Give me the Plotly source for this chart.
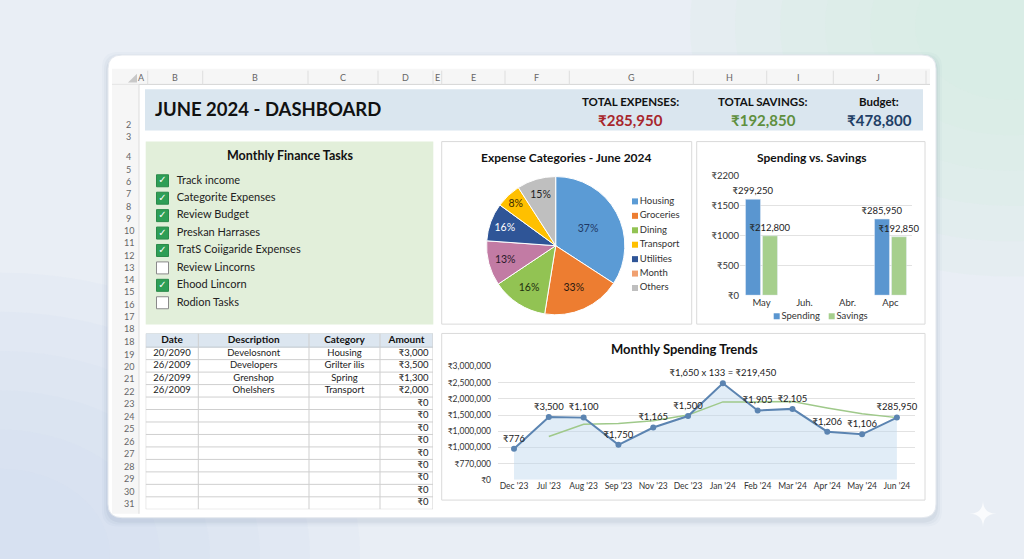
import plotly.graph_objects as go

W, H = 1024, 559


def X(px):
    return px / W


def Y(py):
    return 1 - py / H


FONT = "Lato, 'Noto Sans', 'DejaVu Sans', sans-serif"

# ------------------------------------------------------------------ data
header_title = "JUNE 2024 - DASHBOARD"
kpi_labels = ["TOTAL EXPENSES:", "TOTAL SAVINGS:", "Budget:"]
kpi_values = ["₹285,950", "₹192,850", "₹478,800"]
kpi_colors = ["#a8262c", "#5e8f3e", "#1f3f66"]

col_letters = ["A", "B", "B", "C", "D", "E", "E", "F", "G", "H", "I", "J"]
row_top_labels = ["2", "3"]
row_mid_labels = ["4", "5", "6", "7", "8", "9", "10", "11", "12", "13", "14", "15", "16", "17", "18"]
row_low_labels = ["18", "19", "20", "21", "22", "23", "24", "25", "26", "27", "28", "29", "30", "31"]

tasks = ["Track income", "Categorite Expenses", "Review Budget", "Preskan Harrases",
         "TratS Coiigaride Expenses", "Review Lincorns", "Ehood Lincorn", "Rodion Tasks"]
task_done = [True, True, True, True, True, False, True, False]

pie_labels = ["Housing", "Groceries", "Dining", "Month", "Utilities", "Transport", "Others"]
pie_values = [34.2, 18.4, 13.1, 10.5, 8.9, 5.9, 9.1]
pie_text = ["37%", "33%", "16%", "13%", "16%", "8%", "15%"]
pie_colors = ["#5b9bd5", "#ed7d31", "#92c353", "#c27ba4", "#2f5597", "#ffc000", "#bfbfbf"]
pie_text_colors = ["#1f3864", "#2a1a10", "#1f3010", "#2a1a2a", "#ffffff", "#3a2a00", "#222222"]
legend_labels = ["Housing", "Groceries", "Dining", "Transport", "Utilities", "Month", "Others"]
legend_colors = ["#5b9bd5", "#ed7d31", "#92c353", "#ffc000", "#2f5597", "#f0a070", "#bfbfbf"]

bar_months = ["May", "Juh.", "Abr.", "Apc"]
spending = [1600, None, None, 1270]
savings = [990, None, None, 975]
spending_text = ["₹299,250", "", "", "₹285,950"]
savings_text = ["₹212,800", "", "", "₹192,850"]
bar_ticks = [0, 500, 1000, 1500, 2000]
bar_ticktext = ["₹0", "₹500", "₹1000", "₹1500", "₹2200"]
bar_legend = ["Spending", "Savings"]
bar_colors = ["#5a96d0", "#a6cf8d"]

trend_months = ["Dec '23", "Jul '23", "Aug '23", "Sep '23", "Nov '23", "Dec '23",
                "Jan '24", "Feb '24", "Mar '24", "Apr '24", "May '24", "Jun '24"]
trend_spend = [960000, 1940000, 1920000, 1080000, 1615000, 1970000,
               2980000, 2140000, 2190000, 1485000, 1405000, 1920000]
trend_avg = [None, 1335000, 1715000, 1735000, 1820000, 2000000,
             2405000, 2405000, 2420000, 2220000, 2040000, 1920000]
trend_labels = ["₹776", "₹3,500", "₹1,100", "₹1,750", "₹1,165", "₹1,500",
                "₹1,650 x 133 = ₹219,450", "₹1,905", "₹2,105", "₹1,206", "₹1,106", "₹285,950"]
trend_ticks = [0, 500000, 1000000, 1500000, 2000000, 2500000, 3000000, 3500000]
trend_ticktext = ["₹0", "₹770,000", "₹1,000,000", "₹1,000,000", "₹1,500,000",
                  "₹2,000,000", "₹2,500,000", "₹3,000,000"]

table_header = ["Date", "Description", "Category", "Amount"]
table_col_widths = [52.6, 110.7, 71, 53]
table_dates = ["20/2090", "26/2009", "26/2099", "26/2009"] + [""] * 9
table_desc = ["Develosnont", "Developers", "Grenshop", "Ohelshers"] + [""] * 9
table_cat = ["Housing", "Grilter ilis", "Spring", "Transport"] + [""] * 9
table_amount = ["₹3,000", "₹3,500", "₹1,300", "₹2,000"] + ["₹0"] * 9

# ------------------------------------------------------------------ figure
fig = go.Figure()

# --- bar chart (x / y)
fig.add_trace(go.Bar(x=bar_months, y=spending, name=bar_legend[0], marker_color=bar_colors[0],
                     text=spending_text, textposition="outside", constraintext="none",
                     cliponaxis=False, textfont=dict(size=9.5, color="#222", family=FONT),
                     xaxis="x", yaxis="y", hoverinfo="x+y"))
fig.add_trace(go.Bar(x=bar_months, y=savings, name=bar_legend[1], marker_color=bar_colors[1],
                     text=savings_text, textposition="outside", constraintext="none",
                     cliponaxis=False, textfont=dict(size=9.5, color="#222", family=FONT),
                     xaxis="x", yaxis="y", hoverinfo="x+y"))

# --- line chart (x2 / y2)
tidx = list(range(len(trend_months)))
fig.add_trace(go.Scatter(x=tidx, y=trend_spend, mode="lines", fill="tozeroy",
                         fillcolor="rgba(189,214,238,0.45)", line=dict(width=0),
                         xaxis="x2", yaxis="y2", hoverinfo="skip"))
fig.add_trace(go.Scatter(x=tidx, y=trend_avg, mode="lines", line=dict(color="#9fc98a", width=1.5),
                         xaxis="x2", yaxis="y2", hoverinfo="skip"))
fig.add_trace(go.Scatter(x=tidx, y=trend_spend, mode="lines+markers+text",
                         line=dict(color="#5b84b1", width=2), marker=dict(size=6, color="#5b84b1"),
                         text=trend_labels, textposition="top center", cliponaxis=False,
                         textfont=dict(size=9.5, color="#222", family=FONT),
                         xaxis="x2", yaxis="y2"))

# --- tasks (x3 / y3)
n = len(tasks)
fig.add_trace(go.Scatter(x=[0] * n, y=list(range(n)), mode="markers", cliponaxis=False,
                         marker=dict(symbol="square", size=12,
                                     color=["#2e9e56" if d else "#ffffff" for d in task_done],
                                     line=dict(color=["#2a8a4a" if d else "#8a8a8a" for d in task_done], width=1)),
                         xaxis="x3", yaxis="y3", hoverinfo="skip"))
done_idx = [i for i, d in enumerate(task_done) if d]
fig.add_trace(go.Scatter(x=[0] * len(done_idx), y=done_idx, mode="text", text=["✓"] * len(done_idx),
                         textposition="middle center", cliponaxis=False,
                         textfont=dict(size=10, color="white", family="DejaVu Sans"),
                         xaxis="x3", yaxis="y3", hoverinfo="skip"))
fig.add_trace(go.Scatter(x=[14.2] * n, y=list(range(n)), mode="text", text=tasks,
                         textposition="middle right", cliponaxis=False,
                         textfont=dict(size=11, color="#222", family=FONT),
                         xaxis="x3", yaxis="y3", hoverinfo="skip"))

# --- pie legend (x4 / y4)
fig.add_trace(go.Scatter(x=[0] * len(legend_labels), y=list(range(len(legend_labels))),
                         mode="markers+text", marker=dict(symbol="square", size=6, color=legend_colors),
                         text=legend_labels, textposition="middle right", cliponaxis=False,
                         textfont=dict(size=9.5, color="#333", family=FONT),
                         xaxis="x4", yaxis="y4", hoverinfo="skip"))

# --- bar legend (x5 / y5)
fig.add_trace(go.Scatter(x=list(range(len(bar_legend))), y=[0] * len(bar_legend),
                         mode="markers+text", marker=dict(symbol="square", size=6, color=bar_colors),
                         text=bar_legend, textposition="middle right", cliponaxis=False,
                         textfont=dict(size=9.5, color="#333", family=FONT),
                         xaxis="x5", yaxis="y5", hoverinfo="skip"))

# --- pie
fig.add_trace(go.Pie(labels=pie_labels, values=pie_values, text=pie_text, textinfo="text",
                     sort=False, direction="clockwise", rotation=0,
                     marker=dict(colors=pie_colors, line=dict(color="white", width=1)),
                     textfont=dict(size=10.5, color=pie_text_colors, family=FONT),
                     insidetextorientation="horizontal", textposition="inside",
                     domain=dict(x=[X(485.2), X(626.2)], y=[Y(315), Y(174)]),
                     showlegend=False))

# --- table (x6 / y6): columns in width units, rows by index (header row = -1.1 .. 0)
bounds = [0]
for w_ in table_col_widths:
    bounds.append(bounds[-1] + w_)
centers = [(bounds[i] + bounds[i + 1]) / 2 for i in range(len(table_col_widths))]
nrows = len(table_dates)
ridx = [i + 0.5 for i in range(nrows)]
fig.add_trace(go.Scatter(x=centers, y=[-0.55] * len(table_header), mode="text",
                         text=["<b>%s</b>" % h for h in table_header], textposition="middle center",
                         cliponaxis=False, textfont=dict(size=10, color="#111", family=FONT),
                         xaxis="x6", yaxis="y6", hoverinfo="skip"))
for ci, col in enumerate([table_dates, table_desc, table_cat]):
    fig.add_trace(go.Scatter(x=[centers[ci]] * nrows, y=ridx, mode="text", text=col,
                             textposition="middle center", cliponaxis=False,
                             textfont=dict(size=9.5, color="#222", family=FONT),
                             xaxis="x6", yaxis="y6", hoverinfo="skip"))
fig.add_trace(go.Scatter(x=[bounds[-1] - 4.5] * nrows, y=ridx, mode="text", text=table_amount,
                         textposition="middle left", cliponaxis=False,
                         textfont=dict(size=9.5, color="#222", family=FONT),
                         xaxis="x6", yaxis="y6", hoverinfo="skip"))

# ------------------------------------------------------------------ shapes
shapes = []


def rrect(x0, y0, x1, y1, r):
    return ("M %f,%f L %f,%f Q %f,%f %f,%f L %f,%f Q %f,%f %f,%f L %f,%f Q %f,%f %f,%f "
            "L %f,%f Q %f,%f %f,%f Z" % (
                X(x0 + r), Y(y0), X(x1 - r), Y(y0), X(x1), Y(y0), X(x1), Y(y0 + r),
                X(x1), Y(y1 - r), X(x1), Y(y1), X(x1 - r), Y(y1),
                X(x0 + r), Y(y1), X(x0), Y(y1), X(x0), Y(y1 - r),
                X(x0), Y(y0 + r), X(x0), Y(y0), X(x0 + r), Y(y0)))


def rect(x0, y0, x1, y1, fill, line=None, lw=1):
    shapes.append(dict(type="rect", xref="paper", yref="paper", x0=X(x0), x1=X(x1), y0=Y(y1), y1=Y(y0),
                       fillcolor=fill, line=dict(color=line or "rgba(0,0,0,0)", width=lw if line else 0),
                       layer="below"))


def hline(x0, x1, y, color, w=1):
    shapes.append(dict(type="line", xref="paper", yref="paper", x0=X(x0), x1=X(x1), y0=Y(y), y1=Y(y),
                       line=dict(color=color, width=w), layer="below"))


def vline(x, y0, y1, color, w=1):
    shapes.append(dict(type="line", xref="paper", yref="paper", x0=X(x), x1=X(x), y0=Y(y0), y1=Y(y1),
                       line=dict(color=color, width=w), layer="below"))


# soft background blobs
for k in range(6):
    r = 320 - k * 45
    shapes.append(dict(type="circle", xref="paper", yref="paper", x0=X(1010 - r), x1=X(1010 + r),
                       y0=Y(20 + r * 0.8), y1=Y(20 - r * 0.8), fillcolor="rgba(214,238,226,0.16)",
                       line=dict(width=0), layer="below"))
for k in range(6):
    r = 360 - k * 50
    shapes.append(dict(type="circle", xref="paper", yref="paper", x0=X(0 - r), x1=X(0 + r),
                       y0=Y(560 + r * 0.8), y1=Y(560 - r * 0.8), fillcolor="rgba(206,222,242,0.14)",
                       line=dict(width=0), layer="below"))

# card shadow + card
for k, a in enumerate([0.025, 0.035, 0.05]):
    g = 6 - 2 * k
    shapes.append(dict(type="path", xref="paper", yref="paper",
                       path=rrect(108 - g, 50 - g + 3, 936 + g, 522 + g + 3, 16),
                       fillcolor="rgba(60,80,110,%f)" % a, line=dict(width=0), layer="below"))
shapes.append(dict(type="path", xref="paper", yref="paper", path=rrect(108, 50, 936, 522, 14),
                   fillcolor="#ffffff", line=dict(color="#e4e8ee", width=1), layer="below"))

# spreadsheet column header band and row header column
rect(112, 64, 930, 80, "#f6f6f6")
hline(112, 930, 80, "#d6d6d6")
rect(112, 80, 139, 518, "#f6f6f6")
vline(139, 80, 518, "#dcdcdc")
for sx in [147.7, 202.7, 308, 378, 433, 441.7, 505, 569.3, 693.3, 766.7, 833.3, 926]:
    vline(sx, 66, 80, "#dedede")
shapes.append(dict(type="path", xref="paper", yref="paper",
                   path="M %f,%f L %f,%f L %f,%f Z" % (X(128), Y(78), X(137), Y(78), X(137), Y(69)),
                   fillcolor="#c8c8c8", line=dict(width=0), layer="below"))

# header band
rect(145, 85, 923, 127, "#dae6ef")
# tasks panel
rect(145.7, 138.3, 433.3, 325, "#e2efda")
# chart panels
rect(441.7, 138.3, 691.7, 324.5, "#ffffff", "#dadada")
rect(696.7, 138.3, 925, 324.5, "#ffffff", "#dadada")
rect(441.7, 334, 925, 504, "#ffffff", "#dadada")

# table grid in table-axis coordinates
shapes.append(dict(type="rect", xref="x6", yref="y6", x0=bounds[0], x1=bounds[-1], y0=-1.1, y1=0,
                   fillcolor="#dce6f0", line=dict(width=0), layer="below"))
for yy in [-1.1] + list(range(nrows + 1)):
    shapes.append(dict(type="line", xref="x6", yref="y6", x0=bounds[0], x1=bounds[-1], y0=yy, y1=yy,
                       line=dict(color="#bfc6cc" if yy <= 0 else "#cfcfcf", width=1), layer="below"))
for xx in bounds:
    shapes.append(dict(type="line", xref="x6", yref="y6", x0=xx, x1=xx, y0=-1.1, y1=nrows,
                       line=dict(color="#cfcfcf", width=1), layer="below"))

# sparkle
cx, cy, r = 983, 518, 14
shapes.append(dict(type="path", xref="paper", yref="paper",
                   path="M %f,%f Q %f,%f %f,%f Q %f,%f %f,%f Q %f,%f %f,%f Q %f,%f %f,%f Z" % (
                       X(cx), Y(cy - r), X(cx), Y(cy), X(cx + r), Y(cy), X(cx), Y(cy), X(cx), Y(cy + r),
                       X(cx), Y(cy), X(cx - r), Y(cy), X(cx), Y(cy), X(cx), Y(cy - r)),
                   fillcolor="rgba(255,255,255,0.75)", line=dict(width=0), layer="below"))

# ------------------------------------------------------------------ annotations
ann = []


def text(px, py, s, size, color="#222", bold=False, xanchor="center"):
    ann.append(dict(x=X(px), y=Y(py), xref="paper", yref="paper", text=("<b>%s</b>" % s) if bold else s,
                    showarrow=False, xanchor=xanchor, yanchor="middle",
                    font=dict(size=size, color=color, family=FONT)))


col_x = [141.7, 175, 255, 343.3, 405, 437.3, 473.3, 536, 631.7, 729.3, 798.3, 878.3]
for s, cxp in zip(col_letters, col_x):
    text(cxp, 72.5, s, 9, "#666")
for s, ry in zip(row_top_labels, [120.7, 133.5]):
    text(128.5, ry, s, 9, "#666")
for i, s in enumerate(row_mid_labels):
    text(128.5, 154 + i * 12.52, s, 9, "#666")
for i, s in enumerate(row_low_labels):
    text(128.5, 342.3 + i * 12.72, s, 9, "#666")

text(152.7, 105, header_title, 18.5, "#111", True, "left")
for cxp, lab, val, col in zip([630, 763.3, 879.3], kpi_labels, kpi_values, kpi_colors):
    text(cxp, 97.7, lab, 11.5, "#111", True)
    text(cxp, 116.3, val, 15, col, True)

text(290, 152.7, "Monthly Finance Tasks", 12.5, "#111", True)
text(566, 154.3, "Expense Categories - June 2024", 12, "#111", True)
text(811.7, 154.3, "Spending vs. Savings", 12, "#111", True)
text(684.3, 350, "Monthly Spending Trends", 13, "#111", True)

# ------------------------------------------------------------------ layout
hidden = dict(visible=False, showgrid=False, zeroline=False, fixedrange=True)
fig.update_layout(
    width=W, height=H, autosize=False,
    margin=dict(l=0, r=0, t=0, b=0, pad=0),
    paper_bgcolor="#e9eef5", plot_bgcolor="rgba(0,0,0,0)",
    font=dict(family=FONT, color="#333"),
    showlegend=False,
    barmode="group", bargap=0.21, bargroupgap=0.12,
    xaxis=dict(domain=[X(740), X(912)], anchor="y", type="category", showgrid=False, zeroline=False,
               showline=False, ticks="", tickfont=dict(size=9.5, color="#333")),
    yaxis=dict(domain=[Y(295), Y(172.7)], anchor="x", range=[0, 2000], tickvals=bar_ticks,
               ticktext=bar_ticktext, gridcolor="#e2e2e2", zeroline=False, showline=False,
               tickfont=dict(size=9.5, color="#333")),
    xaxis2=dict(domain=[X(498), X(915)], anchor="y2", range=[-0.46, 11.52], tickvals=tidx,
                ticktext=trend_months, showgrid=False, zeroline=False, showline=False,
                tickfont=dict(size=8.5, color="#333")),
    yaxis2=dict(domain=[Y(483.3), Y(367.7)], anchor="x2", range=[0, 3500000], tickvals=trend_ticks,
                ticktext=trend_ticktext, gridcolor="#e2e2e2", zeroline=False, showline=False,
                tickfont=dict(size=8.5, color="#333"), ticklabelstandoff=6),
    xaxis3=dict(domain=[X(150), X(430)], anchor="y3", range=[-12.5, 267.5], **hidden),
    yaxis3=dict(domain=[Y(311.6), Y(169.4)], anchor="x3", range=[7.5, -0.5], **hidden),
    xaxis4=dict(domain=[X(630), X(690)], anchor="y4", range=[-5, 55], **hidden),
    yaxis4=dict(domain=[Y(295.05), Y(191.95)], anchor="x4", range=[6.5, -0.5], **hidden),
    xaxis5=dict(domain=[X(776.7), X(831.7)], anchor="y5", range=[0, 1], **hidden),
    yaxis5=dict(domain=[Y(322), Y(311)], anchor="x5", range=[-1, 1], **hidden),
    xaxis6=dict(domain=[X(145.7), X(433)], anchor="y6", range=[0, sum(table_col_widths)], **hidden),
    yaxis6=dict(domain=[Y(513.4), Y(334)], anchor="x6", range=[nrows, -1.1], **hidden),
    shapes=shapes,
    annotations=ann,
)

fig.write_html("out.html")
